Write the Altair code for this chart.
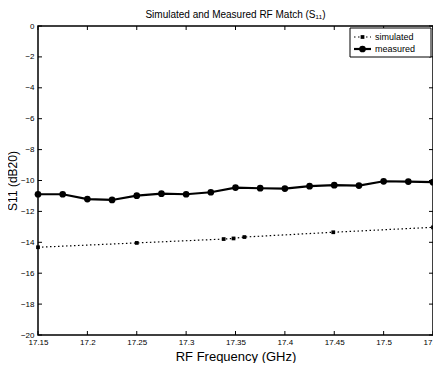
import altair as alt
import pandas as pd

freq_meas = [17.15, 17.175, 17.2, 17.225, 17.25, 17.275, 17.3, 17.325, 17.35,
             17.375, 17.4, 17.425, 17.45, 17.475, 17.5, 17.525, 17.55]
s11_meas = [-10.89, -10.89, -11.2, -11.26, -10.98, -10.85, -10.89, -10.76, -10.46,
            -10.5, -10.52, -10.37, -10.3, -10.33, -10.05, -10.07, -10.11]
freq_sim = [17.15, 17.25, 17.338, 17.348, 17.359, 17.449, 17.55]
s11_sim = [-14.32, -14.04, -13.79, -13.75, -13.66, -13.35, -13.03]
x_ticks = [17.15, 17.2, 17.25, 17.3, 17.35, 17.4, 17.45, 17.5, 17.55]
y_ticks = [-20, -18, -16, -14, -12, -10, -8, -6, -4, -2, 0]
legend_labels = ["simulated", "measured"]

meas = pd.DataFrame({"f": freq_meas, "s": s11_meas})
sim = pd.DataFrame({"f": freq_sim, "s": s11_sim})

FONT = "Liberation Sans"
W, H = 395, 309

xs = alt.Scale(domain=[17.15, 17.55], nice=False, zero=False)
ys = alt.Scale(domain=[-20, 0], nice=False, zero=False)

X = alt.X("f:Q", scale=xs, title="RF Frequency (GHz)",
          axis=alt.Axis(values=x_ticks, format="~g", labelFontSize=8, labelFont=FONT,
                        labelColor="black", titleFont=FONT, titleFontSize=13,
                        titleFontWeight="normal", titleColor="black", titlePadding=4,
                        domain=False, ticks=False, grid=False, labelPadding=3,
                        labelFlush=False, labelOverlap=False))
Y = alt.Y("s:Q", scale=ys, title="S11 (dB20)",
          axis=alt.Axis(values=y_ticks, tickCount=11, labelFontSize=8, labelFont=FONT,
                        labelColor="black", titleFont=FONT, titleFontSize=12,
                        titleFontWeight="normal", titleColor="black", titlePadding=1,
                        domain=False, ticks=False, grid=False, labelPadding=4,
                        labelOverlap=False, labelFlush=False))

sim_line = alt.Chart(sim).mark_line(color="black", strokeDash=[1.5, 2.5], strokeWidth=1.2).encode(x=X, y=Y)
sim_pts = alt.Chart(sim).mark_point(shape="square", filled=True, color="black", size=14, opacity=1).encode(x=X, y=Y)
meas_line = alt.Chart(meas).mark_line(color="black", strokeWidth=2.2).encode(x=X, y=Y)
meas_pts = alt.Chart(meas).mark_point(shape="circle", filled=True, color="black", size=45, opacity=1).encode(x=X, y=Y)

# inward ticks
xt = pd.DataFrame({"f": x_ticks})
yt = pd.DataFrame({"s": y_ticks})
tb = alt.Chart(xt).mark_rule(color="black", strokeWidth=1).encode(
    x=X, y=alt.value(H), y2=alt.value(H - 4))
tt = alt.Chart(xt).mark_rule(color="black", strokeWidth=1).encode(
    x=X, y=alt.value(0), y2=alt.value(4))
tl = alt.Chart(yt).mark_rule(color="black", strokeWidth=1).encode(
    y=Y, x=alt.value(0), x2=alt.value(4))
tr = alt.Chart(yt).mark_rule(color="black", strokeWidth=1).encode(
    y=Y, x=alt.value(W), x2=alt.value(W - 4))

# legend
one = pd.DataFrame({"a": [0]})
leg_box = alt.Chart(one).mark_rect(
    fill="white", stroke="black", strokeWidth=1).encode(
    x=alt.value(312), x2=alt.value(393), y=alt.value(2), y2=alt.value(31))
leg_sim = alt.Chart(one).mark_rule(
    color="black", strokeDash=[1.5, 2.5], strokeWidth=1.2).encode(
    x=alt.value(316), x2=alt.value(333), y=alt.value(11))
leg_sim_pt = alt.Chart(one).mark_point(
    shape="square", filled=True, color="black", size=14, opacity=1).encode(
    x=alt.value(324.5), y=alt.value(11))
leg_meas = alt.Chart(one).mark_rule(
    color="black", strokeWidth=2.2).encode(
    x=alt.value(316), x2=alt.value(333), y=alt.value(23))
leg_meas_pt = alt.Chart(one).mark_point(
    shape="circle", filled=True, color="black", size=45, opacity=1).encode(
    x=alt.value(324.5), y=alt.value(23))
leg_t1 = alt.Chart(one).mark_text(
    align="left", baseline="middle", font=FONT, fontSize=9, color="black",
    text=legend_labels[0]).encode(x=alt.value(337), y=alt.value(11))
leg_t2 = alt.Chart(one).mark_text(
    align="left", baseline="middle", font=FONT, fontSize=9, color="black",
    text=legend_labels[1]).encode(x=alt.value(337), y=alt.value(23))

chart = alt.layer(
    sim_line, sim_pts, meas_line, meas_pts, tb, tt, tl, tr,
    leg_box, leg_sim, leg_sim_pt, leg_meas, leg_meas_pt, leg_t1, leg_t2
).properties(
    width=W, height=H,
    title=alt.Title("Simulated and Measured RF Match (S₁₁)", font=FONT, fontSize=10,
                    fontWeight="normal", color="black", offset=2),
    autosize=alt.AutoSizeParams(type="none"),
    padding={"left": 30, "top": 18, "right": 0, "bottom": 28},
    background="white",
).configure_view(stroke="black", strokeWidth=1.5)

chart.save("out.html", embed_options={"renderer": "svg", "actions": False})
